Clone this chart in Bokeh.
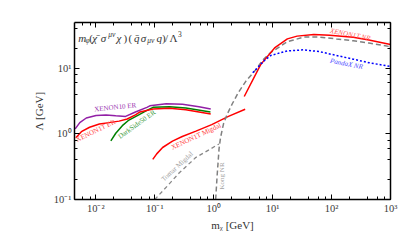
import math
from bokeh.plotting import figure
from bokeh.models import LogAxis, LogTicker, Label, CustomJSTickFormatter
from bokeh.embed import file_html
from bokeh.resources import INLINE

# ---------------- data ----------------
xenon10_er_x = [0.00447, 0.00535, 0.00689, 0.0101, 0.0149, 0.0218, 0.032, 0.047, 0.0736, 0.0826, 0.157, 0.296, 0.562, 0.891]
xenon10_er_y = [1.19, 1.48, 1.74, 1.90, 1.94, 1.88, 1.84, 2.15, 2.53, 2.67, 2.87, 2.81, 2.59, 2.39]

xenon1t_er_x = [0.00459, 0.00569, 0.00785, 0.0115, 0.0169, 0.0248, 0.0341, 0.047, 0.0562, 0.0937, 0.178, 0.337, 0.891]
xenon1t_er_y = [0.871, 1.077, 1.26, 1.41, 1.48, 1.56, 1.68, 1.94, 2.15, 2.39, 2.45, 2.32, 2.0]

darkside50_er_x = [0.018, 0.0218, 0.0282, 0.0365, 0.0535, 0.0736, 0.0937, 0.178, 0.337, 0.881]
darkside50_er_y = [0.782, 1.02, 1.33, 1.62, 1.94, 2.27, 2.53, 2.58, 2.47, 2.15]

xenon1t_migdal_x = [0.0926, 0.108, 0.136, 0.2, 0.293, 0.5, 0.926, 1.78, 3.42]
xenon1t_migdal_y = [0.408, 0.495, 0.619, 0.774, 0.909, 1.10, 1.38, 1.84, 2.37]

xenon1t_nr_x = [3.3, 6.3, 10.8, 17.8, 26, 50, 93, 233, 430, 1000]
xenon1t_nr_y = [3.7, 11.4, 20.3, 27.9, 30.7, 32.5, 31.6, 29.6, 26.9, 22.9]

pandax_nr_x = [4.6, 7.4, 9.3, 17.8, 34, 63, 121, 233, 430, 1000]
pandax_nr_y = [8.5, 13.3, 15.6, 18.3, 19.0, 17.8, 15.6, 13.7, 12.1, 10.6]

kong_nr_x = [1.08, 1.144, 1.235, 1.308, 1.468, 1.71, 2.07, 2.61, 3.55, 5.01, 6.81, 9.26, 17.8, 34.1, 63.1, 121, 233, 430, 1000]
kong_nr_y = [0.1, 0.23, 0.6, 0.88, 1.42, 2.02, 2.87, 4.22, 6.39, 9.09, 13.3, 17.2, 25.3, 29.7, 29.7, 27.8, 26.1, 24.1, 21.2]

tomar_migdal_x = [0.1, 0.165, 0.261, 0.495, 1.23]
tomar_migdal_y = [0.1, 0.162, 0.255, 0.435, 0.70]

x_ticks = [0.01, 0.1, 1, 10, 100, 1000]
y_ticks = [0.1, 1, 10]

SERIF = "Liberation Serif"
X0, X1 = 0.00435, 1000
Y0, Y1 = 0.1, 49.5

# frame geometry (figure pixels)
L, R, T, B = 74, 390, 22, 204
W, H = 399, 233

p = figure(width=W, height=H, x_axis_type="log", y_axis_type="log",
           x_range=(X0, X1), y_range=(Y0, Y1),
           output_backend="svg", toolbar_location=None,
           min_border_left=L, min_border_right=W - R, min_border_top=T, min_border_bottom=H - B)
p.grid.visible = False
p.outline_line_color = None
p.background_fill_color = "white"
p.border_fill_color = "white"

bottom = p.below[0]
left = p.left[0]

fmt = CustomJSTickFormatter(code="""
const sup = {'-':'\u207b','0':'\u2070','1':'\u00b9','2':'\u00b2','3':'\u00b3','4':'\u2074','5':'\u2075','6':'\u2076','7':'\u2077','8':'\u2078','9':'\u2079'};
const e = Math.round(Math.log10(tick));
return '10' + String(e).split('').map(c => sup[c]).join('');
""")
blank = CustomJSTickFormatter(code="return '';")

bottom.ticker = LogTicker(desired_num_ticks=len(x_ticks))
left.ticker = LogTicker(desired_num_ticks=len(y_ticks))
bottom.formatter = fmt
left.formatter = fmt
bottom.axis_label = "m\u1d6a [GeV]"
left.axis_label = "\u039b [GeV]"

top = LogAxis(formatter=blank, major_label_text_font_size="0px", major_label_standoff=0)
right = LogAxis(formatter=blank, major_label_text_font_size="0px", major_label_standoff=0)
p.add_layout(top, "above")
p.add_layout(right, "right")

for ax in [bottom, left, top, right]:
    ax.axis_line_width = 1.5
    ax.axis_line_color = "black"
    ax.major_tick_in = 5
    ax.major_tick_out = 0
    ax.minor_tick_in = 3
    ax.minor_tick_out = 0
    ax.major_tick_line_color = "black"
    ax.minor_tick_line_color = "black"
    ax.major_label_text_font = SERIF
    ax.major_label_text_color = "#3a3a3a"
for ax in [bottom, left]:
    ax.major_label_text_font_size = "10.5px"
    ax.major_label_standoff = 3
    ax.axis_label_text_font = SERIF
    ax.axis_label_text_font_size = "11px"
    ax.axis_label_text_font_style = "normal"
    ax.axis_label_text_color = "#333333"
bottom.axis_label_standoff = 2
left.axis_label_standoff = 6

# ---------------- curves ----------------
p.line(xenon10_er_x, xenon10_er_y, line_color="#921fa6", line_width=1.5)
p.line(darkside50_er_x, darkside50_er_y, line_color="#008000", line_width=1.5)
p.line(xenon1t_er_x, xenon1t_er_y, line_color="#ff0000", line_width=1.5)
p.line(xenon1t_migdal_x, xenon1t_migdal_y, line_color="#ff0000", line_width=1.5)
p.line(tomar_migdal_x, tomar_migdal_y, line_color="#888888", line_width=1.3, line_dash="4 3")
p.line(kong_nr_x, kong_nr_y, line_color="#808080", line_width=1.5, line_dash="5 3")
p.line(xenon1t_nr_x, xenon1t_nr_y, line_color="#ff0000", line_width=1.5)
p.line(pandax_nr_x, pandax_nr_y, line_color="#0000ff", line_width=1.5, line_dash="2 2")

# ---------------- annotation placement helpers ----------------
LX0, LX1 = math.log10(X0), math.log10(X1)
LY0, LY1 = math.log10(Y0), math.log10(Y1)

def ref(px, py):
    """data position of a point read on the reference picture (frame 74..393, 22..216)"""
    lx = LX0 + (px - 74) / (393 - 74) * (LX1 - LX0)
    ly = LY1 - (py - 22) / (216 - 22) * (LY1 - LY0)
    return 10 ** lx, 10 ** ly

def note(xy, txt, color, angle_deg=0.0, size="7px", style="normal",
         baseline="middle", align="left"):
    x, y = xy
    p.add_layout(Label(x=x, y=y, text=txt, text_color=color, text_font=SERIF,
                       text_font_size=size, text_font_style=style,
                       angle=math.radians(angle_deg), text_baseline=baseline,
                       text_align=align))

note(ref(94, 117.5), "XENON10 ER", "#9a35b0", 6)
note(ref(76, 151), "XENON1T ER", "#ff4a4a", 26)
note(ref(119, 148), "DarkSide50 ER", "#3c9a3c", 36)
note(ref(172, 159.5), "XENON1T Migdal", "#ff4040", 25)
note(ref(163, 195), "Tomar Migdal", "#a0a0a0", 43)
note(ref(223, 205), "Kong NR", "#a0a0a0", 90)
note(ref(332, 31), "XENON1T NR", "#ff5a5a", -11, style="italic")
note(ref(332, 64), "PandaX NR", "#4a4aff", -11, style="italic")

# title formula, glyph by glyph
BIG, SMALL = "11px", "7.5px"
title_parts = [
    ("m", 77.7, 39, BIG),
    ("\u03c6", 85.2, 41.5, SMALL),
    ("(", 89.0, 39, BIG),
    ("\u03c7\u0304", 92.0, 39, BIG),
    ("\u03c3", 100.5, 39, BIG),
    ("\u03bc\u03bd", 108.0, 35.0, SMALL),
    ("\u03c7", 116.5, 39, BIG),
    (")", 123.5, 39, BIG),
    ("(", 128.5, 39, BIG),
    ("q\u0304", 134.0, 39, BIG),
    ("\u03c3", 141.0, 39, BIG),
    ("\u03bc\u03bd", 147.5, 41.5, SMALL),
    ("q", 156.7, 39, BIG),
    (")", 162.3, 39, BIG),
    ("/", 165.3, 39, BIG),
    ("\u039b", 170.0, 39, BIG),
    ("3", 178.5, 35.0, SMALL),
]
for t, px, py, sz in title_parts:
    st = "normal" if t in ("(", ")", "/", "3", "\u039b") else "italic"
    note(ref(px, py), t, "#333333", 0, size=sz, style=st, baseline="alphabetic")

open("out.html", "w").write(file_html(p, INLINE))
